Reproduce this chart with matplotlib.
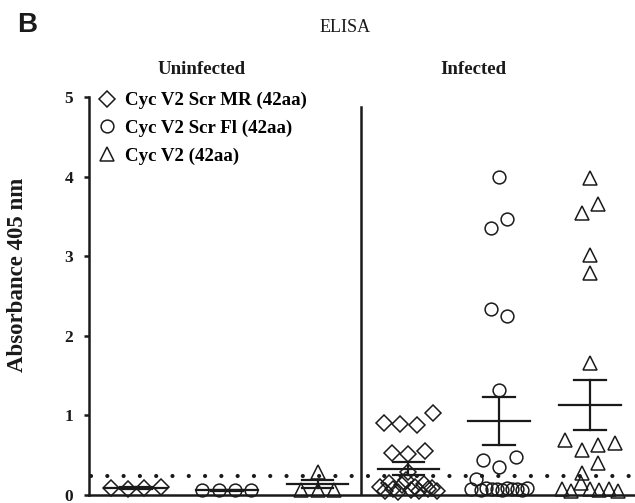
import numpy as np
import matplotlib
matplotlib.use("Agg")
import matplotlib.pyplot as plt
from matplotlib.lines import Line2D

# values (absorbance at 405 nm)
labels = ["Cyc V2 Scr MR (42aa)", "Cyc V2 Scr Fl (42aa)", "Cyc V2 (42aa)"]
markers = ["D", "o", "^"]

uninf_mr = [0.09, 0.08, 0.09, 0.10]
uninf_fl = [0.06, 0.06, 0.06, 0.06]
uninf_v2 = [0.06, 0.06, 0.29, 0.06]

inf_mr = [0.90, 0.89, 0.88, 1.03, 0.53, 0.52, 0.55, 0.29,
          0.10, 0.05, 0.15, 0.08, 0.04, 0.12, 0.19, 0.06, 0.10, 0.05, 0.14, 0.07, 0.09, 0.05]
inf_fl = [4.00, 3.35, 3.47, 2.34, 2.25, 1.32, 0.44, 0.35, 0.48,
          0.08, 0.20, 0.06, 0.09, 0.07, 0.08, 0.06, 0.09, 0.07, 0.08, 0.06, 0.09]
inf_v2 = [3.98, 3.54, 3.66, 3.02, 2.79, 1.66, 0.69, 0.57, 0.63, 0.65, 0.28, 0.40,
          0.08, 0.05, 0.15, 0.07, 0.06, 0.08, 0.05]

group_mean = [0.09, 0.06, 0.135, 0.33, 0.93, 1.13]
group_sem = [0.01, 0.005, 0.05, 0.085, 0.30, 0.31]
cutoff = 0.243

groups = [uninf_mr, uninf_fl, uninf_v2, inf_mr, inf_fl, inf_v2]
group_marker = [0, 1, 2, 0, 1, 2]
marker_size = {"D": 7.8, "o": 9.2, "^": 9.6}


def swarm_x(center, values, row_h=0.16, step=0.18, max_w=0.62):
    # prism-like column scatter: close values share a row, spread sideways
    order = sorted(range(len(values)), key=lambda i: values[i])
    rows = []
    for i in order:
        if rows and values[i] - values[rows[-1][0]] <= row_h:
            rows[-1].append(i)
        else:
            rows.append([i])
    xs = np.zeros(len(values))
    for row in rows:
        row = sorted(row)
        n = len(row)
        sp = min(step, max_w / (n - 1)) if n > 1 else 0
        for k, i in enumerate(row):
            xs[i] = center + (k - (n - 1) / 2) * sp
    return xs


serif = "Liberation Serif"
fig = plt.figure(figsize=(6.35, 5.03), dpi=100)
ax = fig.add_axes([89 / 635, 8 / 503, 546 / 635, 398 / 503])

for g, vals in enumerate(groups):
    c = g + 1
    mk = markers[group_marker[g]]
    xs = swarm_x(c, vals)
    ax.plot(xs, vals, linestyle="none", marker=mk, ms=marker_size[mk],
            mfc="none", mec="#1a1a1a", mew=1.1, clip_on=False, zorder=3)
    m, s = group_mean[g], group_sem[g]
    ax.plot([c - 0.34, c + 0.34], [m, m], color="#1a1a1a", lw=1.6, zorder=4)
    ax.plot([c - 0.175, c + 0.175], [m + s, m + s], color="#1a1a1a", lw=1.6, zorder=4)
    ax.plot([c - 0.175, c + 0.175], [m - s, m - s], color="#1a1a1a", lw=1.6, zorder=4)
    ax.plot([c, c], [m - s, m + s], color="#1a1a1a", lw=1.6, zorder=4)

# cut-off line
ax.plot([0.5, 6.5], [cutoff, cutoff], color="#1a1a1a", lw=3,
        linestyle=(0, (0.01, 3.9)), dash_capstyle="round", clip_on=False)
# divider between uninfected / infected
ax.plot([3.483, 3.483], [0, 4.87], color="#1a1a1a", lw=1.8)

ax.set_xlim(0.4824, 6.4956)
ax.set_ylim(0, 5)
ax.set_xticks([])
ax.set_yticks([0, 1, 2, 3, 4, 5])
ax.tick_params(axis="y", direction="out", length=3.5, width=1.8, pad=8,
               labelsize=12.5, colors="#1a1a1a")
for lab in ax.get_yticklabels():
    lab.set_fontfamily(serif)
    lab.set_fontweight("bold")
for side in ["top", "right"]:
    ax.spines[side].set_visible(False)
ax.spines["left"].set_linewidth(1.8)
ax.spines["bottom"].set_linewidth(1.8)
ax.spines["left"].set_color("#1a1a1a")
ax.spines["bottom"].set_color("#1a1a1a")

ax.set_ylabel("Absorbance 405 nm", family=serif, fontweight="bold", fontsize=16.5,
              color="#1a1a1a")
ax.yaxis.set_label_coords(-0.112, 0.553)

handles = [Line2D([], [], linestyle="none", marker=mk, ms=marker_size[mk],
                  mfc="none", mec="#1a1a1a", mew=1.1) for mk in markers]
ax.legend(handles, labels, loc="upper left", bbox_to_anchor=(0.0156, 1.0126),
          frameon=False, borderpad=0, borderaxespad=0, handlelength=1.0,
          handletextpad=0.45, labelspacing=0.55,
          prop={"family": serif, "weight": "bold", "size": 13.6})

fig.text(345 / 635, 1 - 28 / 503, "ELISA", family=serif, fontsize=13,
         ha="center", va="center", color="#1a1a1a")
fig.text(202 / 635, 1 - 69 / 503, "Uninfected", family=serif, fontweight="bold",
         fontsize=13.6, ha="center", va="center", color="#1a1a1a")
fig.text(473 / 635, 1 - 69 / 503, "Infected", family=serif, fontweight="bold",
         fontsize=13.6, ha="center", va="center", color="#1a1a1a")
fig.text(27 / 635, 1 - 25 / 503, "B", family="Liberation Sans", fontweight="bold",
         fontsize=20, ha="center", va="center", color="#1a1a1a")

fig.savefig("out.png", dpi=100)
